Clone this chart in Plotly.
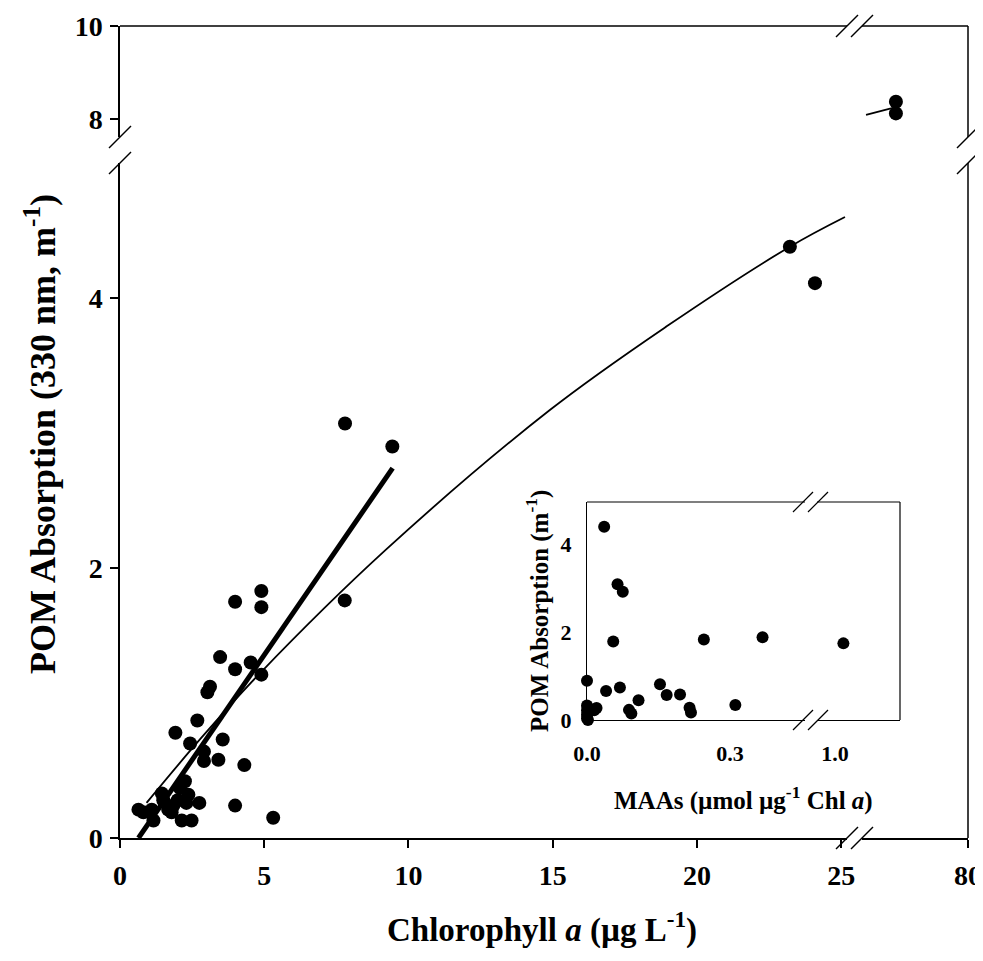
import plotly.graph_objects as go

# ---------------- data ----------------
chl = [4.90, 3.99, 4.90, 7.79, 3.47, 3.99, 4.53, 4.90, 3.12, 3.03, 2.68, 1.92, 2.43, 3.56,
       2.91, 2.91, 3.41, 4.31, 2.25, 2.08, 2.37, 2.75, 3.99, 1.50, 1.85, 1.67, 0.64, 1.10,
       1.16, 1.79, 2.14, 2.48, 5.31, 0.81, 7.80, 9.44, 23.22, 24.09, 1.45, 2.00, 2.30]
pom = [1.83, 1.75, 1.71, 1.76, 1.34, 1.25, 1.30, 1.21, 1.12, 1.08, 0.87, 0.78, 0.70, 0.73,
       0.64, 0.57, 0.58, 0.54, 0.42, 0.37, 0.32, 0.26, 0.24, 0.28, 0.24, 0.21, 0.21, 0.21,
       0.13, 0.19, 0.13, 0.13, 0.15, 0.19, 3.07, 2.90, 4.38, 4.11, 0.33, 0.28, 0.26]

chl_high = [76.6, 76.6]
pom_high = [8.37, 8.12]

# fitted curve
curve_x = [0.92, 2.77, 4.85, 9.19, 14.9, 18.95, 23.22, 25.13]
curve_y = [0.26, 0.73, 1.22, 2.13, 3.17, 3.79, 4.38, 4.60]
curve_hi_x = [75.19, 76.46]
curve_hi_y = [8.09, 8.24]

# linear regression (thick line)
lin_x = [0.64, 9.45]
lin_y = [0.00, 2.74]

# inset: MAAs vs POM absorption
maa = [0.036, 0.064, 0.075, 0.055, 0.245, 0.368, 0.000, 0.040, 0.069, 0.153, 0.167, 0.195,
       0.108, 0.088, 0.093, 0.215, 0.218, 0.311, 0.020, 0.015, 0.000, 0.000, 0.000, 0.000, 0.002]
maa_pom = [4.39, 3.08, 2.91, 1.78, 1.83, 1.88, 0.89, 0.66, 0.74, 0.81, 0.57, 0.58,
           0.45, 0.23, 0.15, 0.28, 0.17, 0.34, 0.27, 0.22, 0.33, 0.22, 0.12, 0.04, 0.00]
maa_hi = [1.02]
maa_hi_pom = [1.74]

main_xticks = [0, 5, 10, 15, 20, 25]
main_xticks_hi = [80]
main_yticks = [0, 2, 4]
main_yticks_hi = [8, 10]
inset_xticks = [0.0, 0.3]
inset_xticks_hi = [1.0]
inset_yticks = [0, 2, 4]

# ---------------- layout geometry ----------------
OFF = 8                      # page body margin of the html document
W, H = 983 - OFF, 961 - 2 * OFF
PL, PR, PT, PB = 120, 968, 26, 838   # plot area in page pixels
L, T = PL - OFF, PT - OFF
R, B = W - (PR - OFF), H - (PB - OFF)
PW, PH = PR - PL, PB - PT


def px(x):
    return (x - PL) / PW


def py(y):
    return (PB - y) / PH


FONT = "Liberation Serif, Times New Roman, serif"

fig = go.Figure()

mk = dict(color="black", size=14)
fig.add_trace(go.Scatter(x=curve_x, y=curve_y, mode="lines", line=dict(color="black", width=1.8, shape="spline"),
                         xaxis="x", yaxis="y", showlegend=False))
fig.add_trace(go.Scatter(x=lin_x, y=lin_y, mode="lines", line=dict(color="black", width=5),
                         xaxis="x", yaxis="y", showlegend=False, cliponaxis=False))
fig.add_trace(go.Scatter(x=chl, y=pom, mode="markers", marker=mk, xaxis="x", yaxis="y",
                         showlegend=False, cliponaxis=False))
fig.add_trace(go.Scatter(x=curve_hi_x, y=curve_hi_y, mode="lines", line=dict(color="black", width=1.8),
                         xaxis="x2", yaxis="y2", showlegend=False))
fig.add_trace(go.Scatter(x=chl_high, y=pom_high, mode="markers", marker=mk, xaxis="x2", yaxis="y2",
                         showlegend=False, cliponaxis=False))
# inset
mk2 = dict(color="black", size=12)
fig.add_trace(go.Scatter(x=maa, y=maa_pom, mode="markers", marker=mk2, xaxis="x3", yaxis="y3",
                         showlegend=False, cliponaxis=False))
fig.add_trace(go.Scatter(x=maa_hi, y=maa_hi_pom, mode="markers", marker=mk2, xaxis="x4", yaxis="y3",
                         showlegend=False, cliponaxis=False))

tf = dict(family=FONT, size=28, color="black", weight="bold")
tf2 = dict(family=FONT, size=22, color="black", weight="bold")
axc = dict(showline=True, linecolor="black", linewidth=1.5, showgrid=False, zeroline=False,
           ticks="outside", ticklen=8, tickwidth=1.5, tickcolor="black", fixedrange=True,
           automargin=False)
inc = dict(showline=True, linecolor="black", linewidth=1.2, showgrid=False, zeroline=False,
           ticks="", fixedrange=True, automargin=False)

x1_end, x2_start = px(847), px(862)
y1_end, y2_start = py(163), py(137)

fig.update_layout(
    width=W, height=H, margin=dict(l=L, r=R, t=T, b=B, autoexpand=False),
    paper_bgcolor="white", plot_bgcolor="white",
    xaxis=dict(domain=[0, x1_end], range=[0, 25.2], tickvals=main_xticks, anchor="y",
               tickfont=tf, ticklabelstandoff=4, **axc),
    xaxis2=dict(domain=[x2_start, 1], range=[75, 80], tickvals=main_xticks_hi, anchor="y",
                tickfont=tf, ticklabelstandoff=4, **axc),
    yaxis=dict(domain=[0, y1_end], range=[0, 5.0], tickvals=main_yticks, anchor="x",
               tickfont=tf, ticklabelstandoff=2, **axc),
    yaxis2=dict(domain=[y2_start, 1], range=[7.613, 10], tickvals=main_yticks_hi, anchor="x",
                tickfont=tf, ticklabelstandoff=2, **axc),
    xaxis3=dict(domain=[px(587), px(805)], range=[0, 0.457], tickvals=inset_xticks,
                ticktext=["0.0", "0.3"], anchor="y3", tickfont=tf2, ticklabelstandoff=13, **inc),
    xaxis4=dict(domain=[px(817), px(900)], range=[0.958, 1.153], tickvals=inset_xticks_hi,
                ticktext=["1.0"], anchor="y3", tickfont=tf2, ticklabelstandoff=13, **inc),
    yaxis3=dict(domain=[py(720), py(502)], range=[0, 4.95], tickvals=inset_yticks, anchor="x3",
                tickfont=tf2, ticklabelstandoff=10, **inc),
)

# frame lines and axis-break marks
shapes = []
lw = 1.5


def seg(x0, y0, x1, y1, w=lw):
    shapes.append(dict(type="line", xref="paper", yref="paper", x0=px(x0), y0=py(y0),
                       x1=px(x1), y1=py(y1), line=dict(color="black", width=w)))


# main frame: top and right
seg(120, 26, 847, 26)
seg(862, 26, 968, 26)
seg(968, 26, 968, 137)
seg(968, 163, 968, 838)
# main break marks
d = 11
for cx in (847, 862):
    seg(cx - d, 26 + d, cx + d, 26 - d)
    seg(cx - d, 838 + d, cx + d, 838 - d)
for cy in (137, 163):
    seg(120 - d, cy + d, 120 + d, cy - d)
    seg(968 - d, cy + d, 968 + d, cy - d)
# inset frame: top and right
seg(587, 502, 805, 502, 1.2)
seg(817, 502, 900, 502, 1.2)
seg(900, 502, 900, 720, 1.2)
d2 = 10
for cx in (803, 818):
    seg(cx - d2, 502 + d2, cx + d2, 502 - d2, 1.2)
    seg(cx - d2, 720 + d2, cx + d2, 720 - d2, 1.2)
fig.update_layout(shapes=shapes)

# titles
ttf = dict(family=FONT, size=33, color="black", weight="bold")
ytf = dict(family=FONT, size=36, color="black", weight="bold")
itf = dict(family=FONT, size=25, color="black", weight="bold")
fig.add_annotation(text="Chlorophyll <i>a</i> (µg L<sup>-1</sup>)", xref="paper", yref="paper",
                   x=px(542), y=py(928), xanchor="center", yanchor="middle", showarrow=False, font=ttf)
fig.add_annotation(text="POM Absorption (330 nm, m<sup>-1</sup>)", xref="paper", yref="paper",
                   x=px(40), y=py(434), xanchor="center", yanchor="middle", showarrow=False,
                   textangle=-90, font=ytf)
fig.add_annotation(text="MAAs (µmol µg<sup>-1</sup> Chl <i>a</i>)", xref="paper", yref="paper",
                   x=px(743), y=py(798), xanchor="center", yanchor="middle", showarrow=False, font=itf)
fig.add_annotation(text="POM Absorption (m<sup>-1</sup>)", xref="paper", yref="paper",
                   x=px(537), y=py(611), xanchor="center", yanchor="middle", showarrow=False,
                   textangle=-90, font=itf)

fig.write_html("out.html")
